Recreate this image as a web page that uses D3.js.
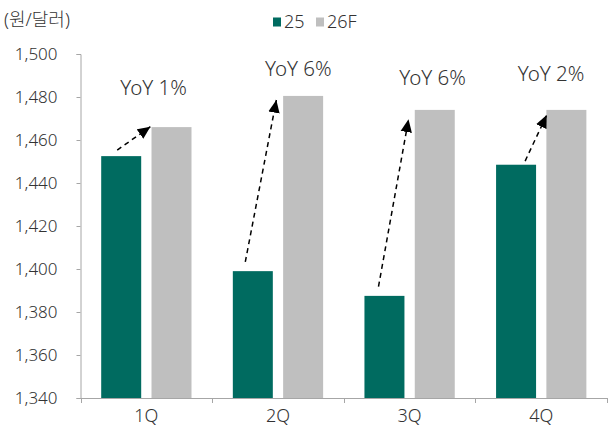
<!DOCTYPE html>
<html><head><meta charset="utf-8">
<script src="https://cdn.jsdelivr.net/npm/d3@7"></script>
<style>
body{margin:0;background:#fff;}
text{font-family:"Noto Sans","Noto Sans CJK KR",sans-serif;fill:#333;font-weight:300;}
</style></head>
<body><svg id="c" width="615" height="428"></svg>
<script>
const categories = ["1Q","2Q","3Q","4Q"];
const seriesNames = ["25","26F"];
const values25 = [1452.5, 1399, 1387.5, 1448.5];
const values26F = [1466, 1480.5, 1474, 1474];
const yTicks = [1340,1360,1380,1400,1420,1440,1460,1480,1500];
const yoyLabels = ["YoY 1%","YoY 6%","YoY 6%","YoY 2%"];
// arrow annotation: from value to value, in band fraction
const arrowFromVal = [1455.3, 1403.3, 1391.8, 1450.2];
const arrowToVal = [1466.2, 1478.6, 1469.6, 1471.6];
const arrowFromFrac = [0.279, 0.252, 0.264, 0.378];
const arrowToFrac = [0.531, 0.488, 0.492, 0.542];
const labelVal = [1481, 1490, 1485.5, 1487.5];
const labelFrac = [0.555, 0.655, 0.675, 0.575];
const colors = {"25":"#006b60","26F":"#bfbfbf"};

(function(){
const svg = d3.select("#c");
const mLeft=80.5, mRight=607, mTop=54, mBottom=398;
const y = d3.scaleLinear().domain([1340,1500]).range([mBottom, mTop]);
const x0 = d3.scaleBand().domain(categories).range([mLeft, mRight]).padding(0);
const x1 = d3.scaleBand().domain(seriesNames).range([20.7, 111]).paddingInner(0.205);

const data = categories.map((c,i)=>({cat:c, "25":values25[i], "26F":values26F[i]}));

// bars
const g = svg.append("g");
data.forEach(d=>{
  seriesNames.forEach(s=>{
    g.append("rect")
      .attr("x", x0(d.cat)+x1(s))
      .attr("y", y(d[s]))
      .attr("width", x1.bandwidth())
      .attr("height", mBottom - y(d[s]))
      .attr("fill", colors[s]);
  });
});

// y axis
const yAxis = d3.axisLeft(y).tickValues(yTicks).tickFormat(d3.format(",")).tickSize(4).tickPadding(19);
const ya = svg.append("g").attr("transform",`translate(${mLeft},0)`).call(yAxis);
ya.select(".domain").attr("stroke","#a6a6a6");
ya.selectAll(".tick line").attr("stroke","#a6a6a6");
ya.selectAll(".tick text").attr("font-size",17).attr("fill","#333").style("font-family",'"Noto Sans","Noto Sans CJK KR",sans-serif').style("font-weight",300);

// x axis
const xa = svg.append("g");
xa.append("line").attr("x1",mLeft).attr("x2",mRight).attr("y1",mBottom+0.5).attr("y2",mBottom+0.5).attr("stroke","#a6a6a6");
const bounds = categories.map(c=>x0(c)).concat([x0.range()[1]]);
bounds.forEach(b=>{
  xa.append("line").attr("x1",Math.round(b)+0.5).attr("x2",Math.round(b)+0.5).attr("y1",mBottom).attr("y2",mBottom+5).attr("stroke","#a6a6a6");
});
categories.forEach(c=>{
  xa.append("text").attr("x",x0(c)+x0.bandwidth()/2).attr("y",422).attr("text-anchor","middle").attr("font-size",18).text(c);
});

// arrows
const defs = svg.append("defs");
defs.append("marker").attr("id","ah").attr("viewBox","0 0 10 10").attr("refX",10).attr("refY",5)
  .attr("markerWidth",8.5).attr("markerHeight",8.5).attr("markerUnits","strokeWidth").attr("orient","auto")
  .append("path").attr("d","M0,0.5L10,5L0,9.5Z").attr("fill","#000");
categories.forEach((c,i)=>{
  const bx = x0(c), bw = x0.bandwidth();
  svg.append("line")
    .attr("x1", bx + arrowFromFrac[i]*bw).attr("y1", y(arrowFromVal[i]))
    .attr("x2", bx + arrowToFrac[i]*bw).attr("y2", y(arrowToVal[i]))
    .attr("stroke","#000").attr("stroke-width",1.5).attr("stroke-dasharray","5,4")
    .attr("marker-end","url(#ah)");
  svg.append("text").attr("x", bx + labelFrac[i]*bw).attr("y", y(labelVal[i]))
    .attr("text-anchor","middle").attr("font-size",20.5).text(yoyLabels[i]);
});

// title
svg.append("text").attr("x",4).attr("y",26).attr("font-size",18).text("(원/달러)");

// legend
const lg = svg.append("g");
const legX = [273, 316];
seriesNames.forEach((s,i)=>{
  lg.append("rect").attr("x",legX[i]).attr("y",17.5).attr("width",8).attr("height",9).attr("fill",colors[s]);
  lg.append("text").attr("x",legX[i]+11).attr("y",27.5).attr("font-size",18).text(s);
});
})();
</script></body></html>
